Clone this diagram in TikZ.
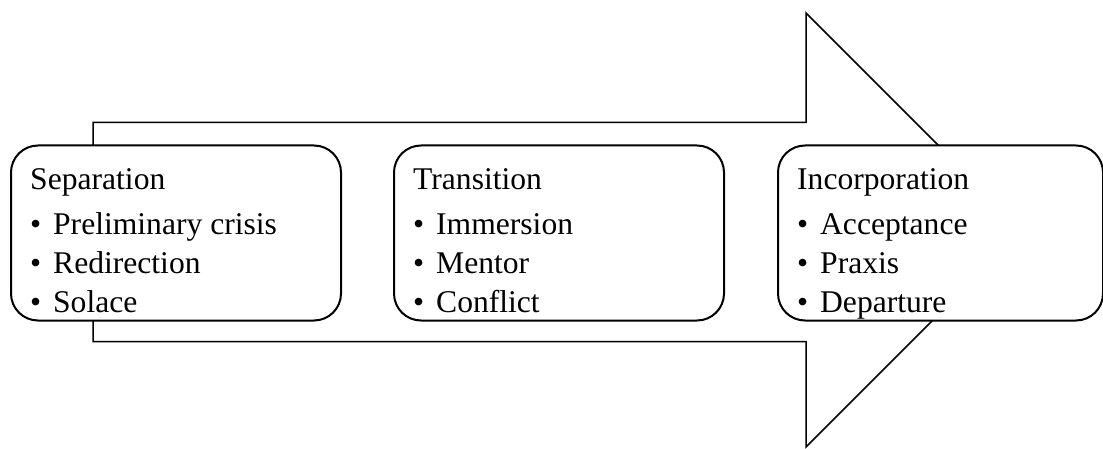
\documentclass[tikz,border=0pt]{standalone}
\usepackage{fontspec}
\setmainfont{Liberation Serif}
\begin{document}
\begin{tikzpicture}[x=1pt,y=-1pt,
  stagebox/.style={draw,line width=2pt,rounded corners=27pt,fill=white,
    minimum height=175pt,inner sep=0pt,anchor=north west},
  linetext/.style={anchor=base west,inner sep=0pt,font=\fontsize{31.6}{36}\selectfont},
  bigarrow/.style={draw,line width=1.5pt,line join=miter}]
\useasboundingbox (0,0) rectangle (1103,449);
% big arrow
\coordinate (a1) at (93,122.5);
\coordinate (a2) at (806,122.5);
\coordinate (a3) at (806,13);
\coordinate (a4) at (1023,230);
\coordinate (a5) at (806,447);
\coordinate (a6) at (806,341.5);
\coordinate (a7) at (93,341.5);
\path[bigarrow] (a1) -- (a2) -- (a3) -- (a4) -- (a5) -- (a6) -- (a7) -- cycle;
% boxes
\node[stagebox,minimum width=330pt] (b1) at (10,144.5) {};
\node[stagebox,minimum width=330pt] (b2) at (393,144.5) {};
\node[stagebox,minimum width=325pt] (b3) at (777,144.5) {};
\newcommand{\bul}{\makebox[23pt][l]{•}}
% box 1
\node[linetext] (t1) at (30,190) {Separation};
\node[linetext] (t1a) at (30,235) {\bul Preliminary crisis};
\node[linetext] (t1b) at (30,273.5) {\bul Redirection};
\node[linetext] (t1c) at (30,312) {\bul Solace};
% box 2
\node[linetext] (t2) at (413,190) {Transition};
\node[linetext] (t2a) at (413,235) {\bul Immersion};
\node[linetext] (t2b) at (413,273.5) {\bul Mentor};
\node[linetext] (t2c) at (413,312) {\bul Conflict};
% box 3
\node[linetext] (t3) at (797,190) {Incorporation};
\node[linetext] (t3a) at (797,235) {\bul Acceptance};
\node[linetext] (t3b) at (797,273.5) {\bul Praxis};
\node[linetext] (t3c) at (797,312) {\bul Departure};
\end{tikzpicture}
\end{document}
